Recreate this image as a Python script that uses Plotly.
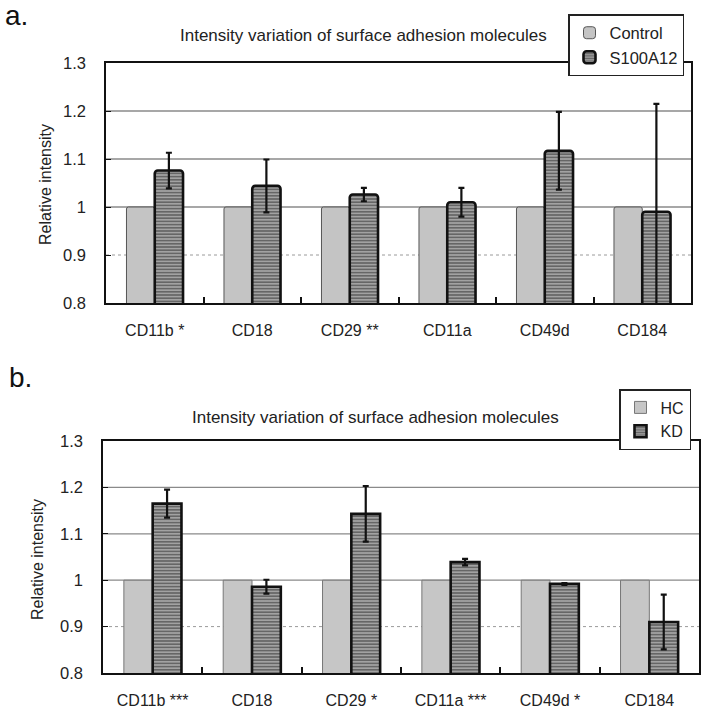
import plotly.graph_objects as go

# ---------------- data ----------------
categories_a = ["CD11b *", "CD18", "CD29 **", "CD11a", "CD49d", "CD184"]
control_a = [1.0, 1.0, 1.0, 1.0, 1.0, 1.0]
s100a12_a = [1.076, 1.044, 1.026, 1.010, 1.117, 0.990]
s100a12_err = [0.037, 0.055, 0.014, 0.030, 0.081, 0.225]

categories_b = ["CD11b ***", "CD18", "CD29 *", "CD11a ***", "CD49d *", "CD184"]
hc_b = [1.0, 1.0, 1.0, 1.0, 1.0, 1.0]
kd_b = [1.165, 0.986, 1.143, 1.039, 0.992, 0.910]
kd_err = [0.030, 0.015, 0.060, 0.007, 0.002, 0.059]

y_ticks = [0.8, 0.9, 1.0, 1.1, 1.2, 1.3]
y_tick_text = ["0.8", "0.9", "1", "1.1", "1.2", "1.3"]
solid_grid = [1.0, 1.1, 1.2]
dotted_grid = [0.9]

title_text = "Intensity variation of surface adhesion molecules"
FONT = "Arial, Liberation Sans, sans-serif"

W, H = 711, 710

stripe = dict(shape="-", size=3.2, solidity=0.5, fgcolor="#2a2a2a", bgcolor="#a2a2a2")

fig = go.Figure()

# panel a
fig.add_trace(go.Bar(
    x=categories_a, y=control_a, name="Control", xaxis="x", yaxis="y",
    marker=dict(color="#c4c4c4", line=dict(color="#555555", width=1), cornerradius=2),
    legend="legend", showlegend=True))
fig.add_trace(go.Bar(
    x=categories_a, y=s100a12_a, name="S100A12", xaxis="x", yaxis="y",
    marker=dict(color="#a2a2a2", pattern=stripe, line=dict(color="#111111", width=2.6), cornerradius=3),
    error_y=dict(type="data", array=s100a12_err, visible=True, color="#111111", thickness=2.2, width=3),
    legend="legend", showlegend=True))

# panel b
fig.add_trace(go.Bar(
    x=categories_b, y=hc_b, name="HC", xaxis="x2", yaxis="y2",
    marker=dict(color="#c6c6c6", line=dict(color="#777777", width=1)),
    legend="legend2", showlegend=True))
fig.add_trace(go.Bar(
    x=categories_b, y=kd_b, name="KD", xaxis="x2", yaxis="y2",
    marker=dict(color="#a2a2a2", pattern=stripe, line=dict(color="#111111", width=2.6)),
    error_y=dict(type="data", array=kd_err, visible=True, color="#111111", thickness=2.2, width=3),
    legend="legend2", showlegend=True))

# plot area geometry (pixels -> paper)
a_left, a_right, a_top, a_bot = 106, 691, 63, 303
b_left, b_right, b_top, b_bot = 103, 699, 441, 673

def xdom(l, r):
    return [l / W, r / W]

def ydom(t, b):
    return [1 - b / H, 1 - t / H]

xaxis_common = dict(
    type="category", showline=True, mirror=True, linecolor="#111111", linewidth=1.6,
    ticks="inside", tickson="boundaries", ticklen=6, tickwidth=1.5, tickcolor="#111111",
    showgrid=False, tickfont=dict(family=FONT, size=16, color="#222222"),
    ticklabelstandoff=12, zeroline=False, automargin=False,
)
yaxis_common = dict(
    range=[0.8, 1.3], tickvals=y_ticks, ticktext=y_tick_text,
    showline=True, mirror=True, linecolor="#111111", linewidth=1.6,
    ticks="inside", ticklen=5, tickwidth=1.2, tickcolor="#111111",
    showgrid=False, zeroline=False, automargin=False,
    tickfont=dict(family=FONT, size=16.5, color="#222222"),
    ticklabelstandoff=15,
)

shapes = []
for yref, xref in (("y", "x domain"), ("y2", "x2 domain")):
    for g in solid_grid:
        shapes.append(dict(type="line", xref=xref, yref=yref, x0=0, x1=1, y0=g, y1=g,
                           line=dict(color="#8a8a8a", width=1.3), layer="below"))
    for g in dotted_grid:
        shapes.append(dict(type="line", xref=xref, yref=yref, x0=0, x1=1, y0=g, y1=g,
                           line=dict(color="#9a9a9a", width=1, dash="dot"), layer="below"))

annotations = [
    dict(text="a.", x=3 / W, y=1 - 16 / H, xref="paper", yref="paper", xanchor="left", yanchor="middle",
         showarrow=False, font=dict(family=FONT, size=28, color="#111111")),
    dict(text="b.", x=7 / W, y=1 - 378 / H, xref="paper", yref="paper", xanchor="left", yanchor="middle",
         showarrow=False, font=dict(family=FONT, size=28, color="#111111")),
    dict(text=title_text, x=363 / W, y=1 - 35 / H, xref="paper", yref="paper", xanchor="center",
         yanchor="middle", showarrow=False, font=dict(family=FONT, size=17, color="#222222")),
    dict(text=title_text, x=375 / W, y=1 - 417 / H, xref="paper", yref="paper", xanchor="center",
         yanchor="middle", showarrow=False, font=dict(family=FONT, size=17, color="#222222")),
    dict(text="Relative intensity", x=45 / W, y=1 - 185 / H, xref="paper", yref="paper", textangle=-90,
         xanchor="center", yanchor="middle", showarrow=False, font=dict(family=FONT, size=16, color="#222222")),
    dict(text="Relative intensity", x=37 / W, y=1 - 560 / H, xref="paper", yref="paper", textangle=-90,
         xanchor="center", yanchor="middle", showarrow=False, font=dict(family=FONT, size=16, color="#222222")),
]

fig.update_layout(
    width=W, height=H, margin=dict(l=0, r=0, t=0, b=0, autoexpand=False),
    paper_bgcolor="white", plot_bgcolor="white",
    barmode="group", bargap=0.42, bargroupgap=0,
    font=dict(family=FONT, color="#222222"),
    xaxis=dict(domain=xdom(a_left, a_right), anchor="y", **xaxis_common),
    yaxis=dict(domain=ydom(a_top, a_bot), anchor="x", **yaxis_common),
    xaxis2=dict(domain=xdom(b_left, b_right), anchor="y2", **xaxis_common),
    yaxis2=dict(domain=ydom(b_top, b_bot), anchor="x2", **yaxis_common),
    legend=dict(x=568 / W, y=1 - 14 / H, xanchor="left", yanchor="top",
                bgcolor="white", bordercolor="#222222", borderwidth=1.5,
                font=dict(family=FONT, size=16.5, color="#222222"),
                tracegroupgap=0, itemwidth=30),
    legend2=dict(x=619 / W, y=1 - 389 / H, xanchor="left", yanchor="top",
                 bgcolor="white", bordercolor="#222222", borderwidth=1.5,
                 font=dict(family=FONT, size=16, color="#222222"),
                 tracegroupgap=0, itemwidth=30),
    shapes=shapes, annotations=annotations,
)

fig.write_html(
    "out.html",
    config={"displayModeBar": False},
    post_script="document.body.style.margin='0px';document.body.style.overflow='hidden';",
)
